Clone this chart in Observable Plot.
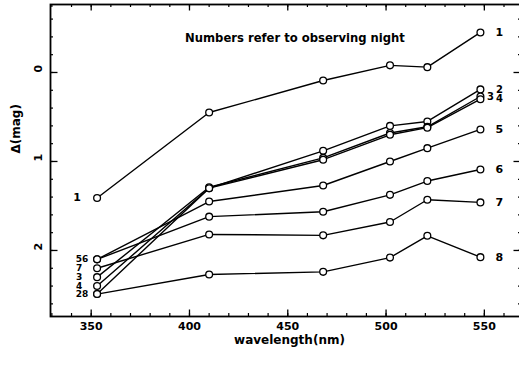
<!DOCTYPE html>
<html><head><meta charset="utf-8">
<script src="https://cdn.jsdelivr.net/npm/d3@7"></script>
<script src="https://cdn.jsdelivr.net/npm/@observablehq/plot@0.6"></script>
<style>
html,body{margin:0;padding:0;background:#fff;}
#chart svg{display:block;}
</style>
</head><body><div id="chart"></div>
<script>
// wavelengths (nm) of the observed bands
const wavelengths = [353, 410, 468, 502, 521, 548];
// Δ(mag) per observing night
const night1 = [1.41, 0.45, 0.09, -0.08, -0.06, -0.45];
const night2 = [2.49, 1.30, 0.88, 0.60, 0.55, 0.19];
const night3 = [2.30, 1.29, 0.96, 0.68, 0.61, 0.27];
const night4 = [2.40, 1.30, 0.98, 0.70, 0.62, 0.30];
const night5 = [2.10, 1.45, 1.27, 1.00, 0.85, 0.64];
const night6 = [2.10, 1.62, 1.565, 1.375, 1.22, 1.09];
const night7 = [2.20, 1.82, 1.83, 1.68, 1.43, 1.46];
const night8 = [2.49, 2.27, 2.24, 2.08, 1.835, 2.075];
const nightNames = ["1", "2", "3", "4", "5", "6", "7", "8"];
const nightSeries = [night1, night2, night3, night4, night5, night6, night7, night8];

// tick labels
const xTicks = [350, 400, 450, 500, 550];
const xMinorTicks = d3.range(33, 57).map(i => i * 10);
const yTicks = [0, 1, 2];
const yMinorTicks = d3.range(-3, 14).map(i => +(i * 0.2).toFixed(1));

const titleText = "Numbers refer to observing night";
const xLabel = "wavelength(nm)";
const yLabel = "Δ(mag)";

// left-end labels (grouped where points coincide)
const leftPair = [{text: "56", v: night5[0]}, {text: "28", v: night2[0]}];
const leftSingle = [{text: "7", v: night7[0]}, {text: "3", v: night3[0]}, {text: "4", v: night4[0]}];
const leftFirst = [{text: "1", v: night1[0]}];
const last = wavelengths.length - 1;
const rightLabels = nightNames.map((n, i) => ({text: n, v: nightSeries[i][last]}));

const rows = nightSeries.flatMap((vals, i) =>
  vals.map((v, j) => ({night: nightNames[i], w: wavelengths[j], d: v})));

const W0 = wavelengths[0], WN = wavelengths[last];
const font = "DejaVu Sans";

const width = 519, height = 373;
const mL = 50, mR = -2, mT = 4, mB = 57;
const fw = width - mL - mR, fh = height - mT - mB;
const major = 6.5, minor = 3;

const chart = Plot.plot({
  width, height,
  marginLeft: mL, marginRight: mR, marginTop: mT, marginBottom: mB,
  style: {fontFamily: font, fontSize: "11px", fontWeight: "bold", color: "black", background: "white", overflow: "visible"},
  x: {domain: [329.3, 568.9], axis: null},
  y: {domain: [-0.764, 2.742], reverse: true, axis: null},
  marks: [
    Plot.frame({stroke: "black", strokeWidth: 1.8}),
    // inward ticks on all four sides
    Plot.tickX(xTicks, {x: d => d, insetTop: fh - major, stroke: "black", strokeWidth: 1.3}),
    Plot.tickX(xMinorTicks, {x: d => d, insetTop: fh - minor, stroke: "black", strokeWidth: 1.2}),
    Plot.tickX(xTicks, {x: d => d, insetBottom: fh - major, stroke: "black", strokeWidth: 1.3}),
    Plot.tickX(xMinorTicks, {x: d => d, insetBottom: fh - minor, stroke: "black", strokeWidth: 1.2}),
    Plot.tickY(yTicks, {y: d => d, insetRight: fw - major - 1, stroke: "black", strokeWidth: 1.3}),
    Plot.tickY(yMinorTicks, {y: d => d, insetRight: fw - minor, stroke: "black", strokeWidth: 1.2}),
    Plot.tickY(yTicks, {y: d => d, insetLeft: fw - major - 1, stroke: "black", strokeWidth: 1.3}),
    Plot.tickY(yMinorTicks, {y: d => d, insetLeft: fw - minor, stroke: "black", strokeWidth: 1.2}),
    // tick labels
    Plot.text(xTicks, {x: d => d, frameAnchor: "bottom", dy: 13, text: d => String(d), fontSize: 11}),
    Plot.text(yTicks, {y: d => d, frameAnchor: "left", dx: -12, rotate: -90, text: d => String(d), fontSize: 11}),
    // axis titles
    Plot.text([xLabel], {frameAnchor: "bottom", dx: 3.5, dy: 27, text: d => d, fontSize: 12}),
    Plot.text([yLabel], {frameAnchor: "left", dx: -34, dy: -7, rotate: -90, text: d => d, fontSize: 12}),
    Plot.text([titleText], {frameAnchor: "top", dx: 9, dy: 29, text: d => d, fontSize: 11.6}),
    // data
    Plot.line(rows, {x: "w", y: "d", z: "night", stroke: "black", strokeWidth: 1.4}),
    Plot.dot(rows, {x: "w", y: "d", r: 3.4, stroke: "black", strokeWidth: 1.3, fill: "white"}),
    // point labels
    Plot.text(rightLabels.filter(d => !["2", "3", "4"].includes(d.text)), {x: () => WN, y: "v", text: "text", dx: 19, fontSize: 11}),
    Plot.text(rightLabels.filter(d => ["2", "4"].includes(d.text)), {x: () => WN, y: "v", text: "text", dx: 19, fontSize: 10}),
    Plot.text(rightLabels.filter(d => d.text === "3"), {x: () => WN, y: "v", text: "text", dx: 10, fontSize: 10}),
    Plot.text(leftPair, {x: () => W0, y: "v", text: "text", dx: -15, fontSize: 9}),
    Plot.text(leftSingle, {x: () => W0, y: "v", text: "text", dx: -18, fontSize: 9}),
    Plot.text(leftFirst, {x: () => W0, y: "v", text: "text", dx: -20, fontSize: 11})
  ]
});
document.getElementById("chart").appendChild(chart);
</script>
</body></html>
